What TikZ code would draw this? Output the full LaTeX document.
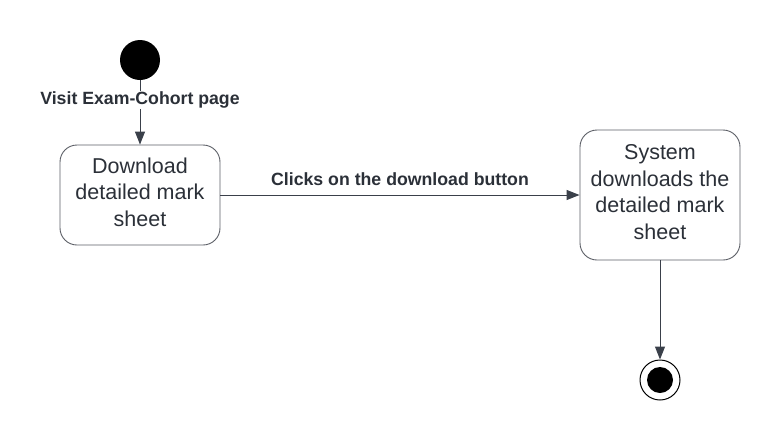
\documentclass[tikz,border=0pt]{standalone}
\usepackage{fontspec}
\setmainfont{Liberation Sans}
\usetikzlibrary{arrows.meta}
\definecolor{lineC}{HTML}{3A404A}
\definecolor{textC}{HTML}{2B3038}
\definecolor{boxC}{HTML}{5C5F66}
\tikzset{
  statebox/.style={draw=boxC, line width=0.9pt, rounded corners=17pt, fill=white, inner sep=0pt},
  statetext/.style={text=textC, align=center, font=\fontsize{21.5}{26.5}\selectfont, inner sep=0pt},
  conn/.style={draw=lineC, line width=1pt, -{Triangle[length=13pt,width=10pt]}},
  lbl/.style={text=textC, font=\bfseries\fontsize{17.7}{21}\selectfont, inner sep=1pt}
}
\begin{document}
\begin{tikzpicture}[x=1pt,y=-1pt]
\useasboundingbox[fill=white] (0,0) rectangle (780,440);
\node[circle, fill=black, minimum size=40pt, inner sep=0pt] (start) at (140,60) {};
\node[statebox, minimum width=160pt, minimum height=100pt] (b1) at (140,195) {};
\node[statetext] (t1) at (140,192) {Download\\detailed mark\\sheet};
\node[statebox, minimum width=160pt, minimum height=130pt] (b2) at (660,195) {};
\node[statetext] (t2) at (660,192) {System\\downloads the\\detailed mark\\sheet};
\node[circle, draw=black, line width=1pt, fill=white, minimum size=40pt, inner sep=0pt] (end) at (660,380) {};
\node[circle, fill=black, minimum size=26pt, inner sep=0pt] (endin) at (end.center) {};
\node[lbl, fill=white] (l1) at (140,100) {Visit Exam-Cohort page};
\draw[draw=lineC, line width=1pt] (start) -- (l1);
\draw[conn] (l1) -- (b1);
\draw[conn] (b1) -- node[lbl, above=8pt] {Clicks on the download button} (b2);
\draw[conn] (b2) -- (end);
\end{tikzpicture}
\end{document}
